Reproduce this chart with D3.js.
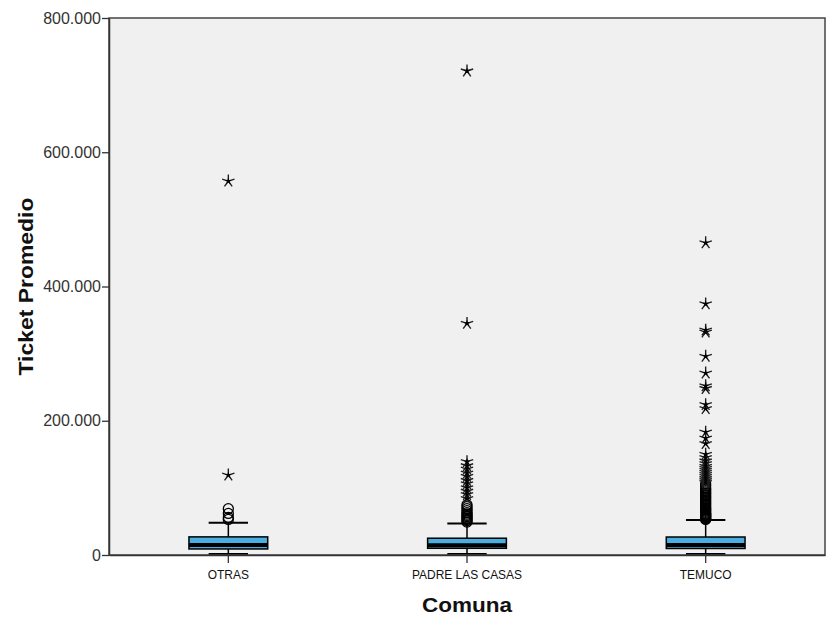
<!DOCTYPE html>
<html>
<head>
<meta charset="utf-8">
<script src="https://cdn.jsdelivr.net/npm/d3@7"></script>
<style>
  body { margin: 0; background: #fff; }
  svg { display: block; font-family: Arial, "Liberation Sans", sans-serif; }
</style>
</head>
<body>
<svg id="chart" width="826" height="619"></svg>
<script>
// ---- data ----
const categories = ["OTRAS", "PADRE LAS CASAS", "TEMUCO"];
const q1Values      = [9000, 10000, 9700];
const medianValues  = [15000, 14500, 14900];
const q3Values      = [27000, 25000, 26800];
const whiskerLow    = [1500, 1500, 1500];
const whiskerHigh   = [48000, 47000, 52000];
const circleOtras   = [53000, 56000, 62000, 69000];
const starOtras     = [119000, 557000];
const circlePadre   = [49000, 51000, 53000, 55000, 57000, 59000, 61000, 63000, 66000, 69000, 72000, 75000];
const starPadre     = [84000, 90000, 95000, 100000, 106000, 111000, 117000, 122000, 128000, 133000, 139000, 345000, 721000];
const circleTemuco  = [53000, 54000, 55000, 56000, 57000, 58000, 59000, 60000, 61000, 62000, 63500, 65000, 66500, 68000, 70000, 72000, 74000, 76000, 78000, 80000, 82000, 84000, 86000, 88000, 90000, 92000, 94000, 96000, 98000, 100000, 103000, 106000];
const starTemuco    = [108000, 111000, 114000, 117000, 120000, 123000, 126000, 129000, 132000, 136000, 140000, 145000, 150000, 166000, 174000, 183000, 218000, 224000, 248000, 252000, 271000, 296000, 332000, 335000, 374000, 465000];
const yTicks        = [0, 200000, 400000, 600000, 800000];

const circles = [circleOtras, circlePadre, circleTemuco];
const stars = [starOtras, starPadre, starTemuco];

// ---- layout ----
const svg = d3.select("#chart");
const pLeft = 109, pRight = 825, pTop = 18, pBottom = 555;

const x = d3.scaleBand().domain(categories).range([pLeft, pRight]).padding(0);
const y = d3.scaleLinear().domain([0, 800000]).range([pBottom, pTop]);

const loc = d3.formatLocale({decimal: ",", thousands: ".", grouping: [3], currency: ["", ""]});
const fmt = loc.format(",d");

// plot background
svg.append("rect")
  .attr("x", pLeft).attr("y", pTop)
  .attr("width", pRight - pLeft).attr("height", pBottom - pTop)
  .attr("fill", "#f0f0f0");

// boxes
const boxW = x.bandwidth() * 0.33;
const capW = boxW * 0.5;
const g = svg.append("g");

categories.forEach((c, i) => {
  const cx = x(c) + x.bandwidth() / 2;
  g.append("line").attr("x1", cx).attr("x2", cx)
    .attr("y1", y(q3Values[i])).attr("y2", y(whiskerHigh[i]))
    .attr("stroke", "#000").attr("stroke-width", 1.5);
  g.append("line").attr("x1", cx).attr("x2", cx)
    .attr("y1", y(q1Values[i])).attr("y2", y(whiskerLow[i]))
    .attr("stroke", "#000").attr("stroke-width", 1.5);
  g.append("line").attr("x1", cx - capW / 2).attr("x2", cx + capW / 2)
    .attr("y1", y(whiskerHigh[i])).attr("y2", y(whiskerHigh[i]))
    .attr("stroke", "#000").attr("stroke-width", 2);
  g.append("line").attr("x1", cx - capW / 2).attr("x2", cx + capW / 2)
    .attr("y1", y(whiskerLow[i])).attr("y2", y(whiskerLow[i]))
    .attr("stroke", "#000").attr("stroke-width", 2);
  g.append("rect")
    .attr("x", cx - boxW / 2).attr("width", boxW)
    .attr("y", y(q3Values[i])).attr("height", y(q1Values[i]) - y(q3Values[i]))
    .attr("fill", "#4aaee0").attr("stroke", "#000").attr("stroke-width", 1.5);
  g.append("line").attr("x1", cx - boxW / 2).attr("x2", cx + boxW / 2)
    .attr("y1", y(medianValues[i])).attr("y2", y(medianValues[i]))
    .attr("stroke", "#000").attr("stroke-width", 4);

  g.selectAll(null).data(circles[i]).enter().append("circle")
    .attr("cx", cx).attr("cy", d => y(d)).attr("r", 5)
    .attr("fill", "none").attr("stroke", "#000").attr("stroke-width", 1.3);

  const st = g.selectAll(null).data(stars[i]).enter().append("g")
    .attr("transform", d => `translate(${cx},${y(d)})`);
  st.append("path")
    .attr("d", () => {
      let p = "";
      for (let k = 0; k < 5; k++) {
        const a = -Math.PI / 2 + k * 2 * Math.PI / 5;
        p += `M0,0L${(6.5 * Math.cos(a)).toFixed(2)},${(6.5 * Math.sin(a)).toFixed(2)}`;
      }
      return p;
    })
    .attr("stroke", "#222").attr("stroke-width", 1.4).attr("fill", "none");
  st.append("path")
    .attr("d", d3.symbol().type(d3.symbolStar).size(16))
    .attr("fill", "#000");
});

// frame
svg.append("rect")
  .attr("x", pLeft).attr("y", pTop)
  .attr("width", pRight - pLeft).attr("height", pBottom - pTop)
  .attr("fill", "none").attr("stroke", "#444").attr("stroke-width", 1.5);

// axes
const yAxis = svg.append("g").attr("transform", `translate(${pLeft},0)`)
  .call(d3.axisLeft(y).tickValues(yTicks).tickFormat(fmt).tickSize(7).tickSizeOuter(0));
yAxis.select(".domain").attr("stroke", "#333").attr("stroke-width", 1.5);
yAxis.selectAll(".tick line").attr("stroke", "#333").attr("stroke-width", 1.3);
yAxis.selectAll(".tick text").attr("font-size", 16).attr("fill", "#333").attr("font-family", "Arial, 'Liberation Sans', sans-serif").attr("x", -8);

const xAxis = svg.append("g").attr("transform", `translate(0,${pBottom})`)
  .call(d3.axisBottom(x).tickSize(8).tickSizeOuter(0));
xAxis.select(".domain").attr("stroke", "#333").attr("stroke-width", 1.5);
xAxis.selectAll(".tick line").attr("stroke", "#333").attr("stroke-width", 1.3);
xAxis.selectAll(".tick text").attr("font-size", 13).attr("fill", "#111").attr("font-family", "Arial, 'Liberation Sans', sans-serif").attr("y", 15)
  .attr("textLength", function () { return this.getComputedTextLength() * 0.92; })
  .attr("lengthAdjust", "spacingAndGlyphs");

// axis titles
svg.append("text")
  .attr("transform", `translate(33,${(pTop + pBottom) / 2}) rotate(-90)`)
  .attr("text-anchor", "middle")
  .attr("font-size", 20).attr("font-weight", "bold").attr("fill", "#111")
  .attr("textLength", 178).attr("lengthAdjust", "spacingAndGlyphs")
  .text("Ticket Promedio");

svg.append("text")
  .attr("x", (pLeft + pRight) / 2).attr("y", 612)
  .attr("text-anchor", "middle")
  .attr("font-size", 20).attr("font-weight", "bold").attr("fill", "#111")
  .attr("textLength", 90).attr("lengthAdjust", "spacingAndGlyphs")
  .text("Comuna");
</script>
</body>
</html>
